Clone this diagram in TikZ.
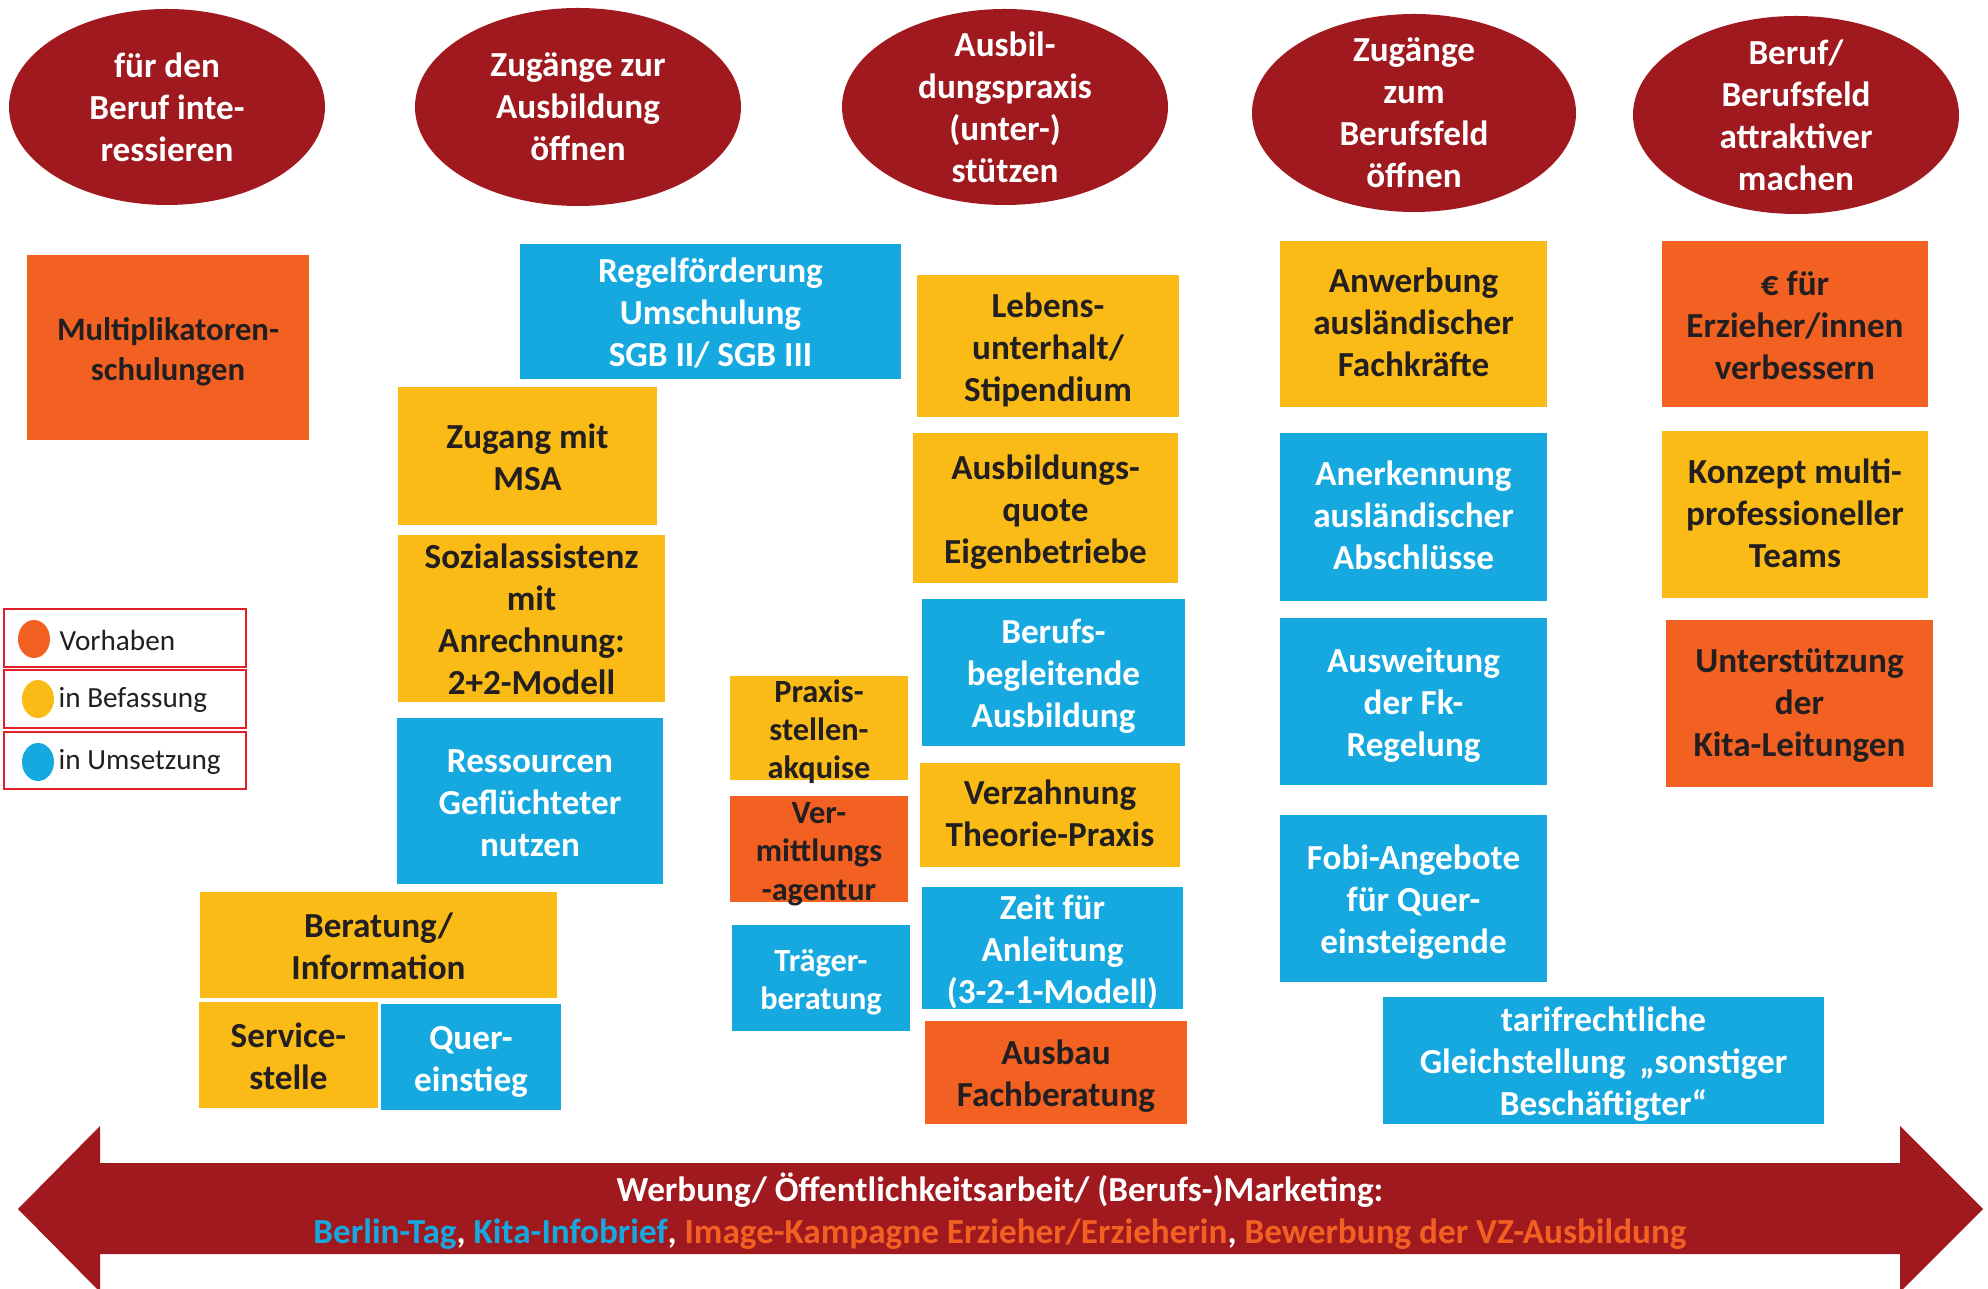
\documentclass[tikz,border=0pt]{standalone}
\usepackage{fontspec}
\setmainfont{Carlito}
\usetikzlibrary{shapes.geometric}
\definecolor{cred}{HTML}{A0191E}
\definecolor{corg}{HTML}{F26122}
\definecolor{cyel}{HTML}{FBBB16}
\definecolor{cblu}{HTML}{16A9E0}
\definecolor{ctxt}{HTML}{231F20}
\definecolor{cleg}{HTML}{E2202A}
\newcommand\rbox[8]{%
  \node[boxshape, fill=#2, minimum width={(#5-#3)*0.01cm}, minimum height={(#6-#4)*0.01cm}] (#1) at ({(#3+#5)/2},{(#4+#6)/2}) {};
  \node[boxtext, #8] (#1-t) at ([yshift=-0.05cm]#1.center) {\strut #7\strut};}
\newcommand\goalell[6]{%
  \node[goalshape, minimum width={#4*0.01cm}, minimum height={#5*0.01cm}] (#1) at (#2,#3) {};
  \node[goaltext] (#1-t) at (#1.center) {#6};}
\begin{document}
\begin{tikzpicture}[x=0.01cm,y=-0.01cm,
  boxshape/.style={rectangle, inner sep=0pt, outer sep=0pt, draw=none},
  boxtext/.style={align=center, inner sep=0pt, text=ctxt, font=\bfseries\fontsize{10}{11.95}\selectfont},
  wt/.style={text=white},
  up/.style={yshift=0.025cm},
  small/.style={font=\bfseries\fontsize{9.2}{10.9}\selectfont},
  mid/.style={font=\bfseries\fontsize{9.3}{11.2}\selectfont},
  goalshape/.style={ellipse, fill=cred, inner sep=0pt, outer sep=0pt},
  goaltext/.style={align=center, inner sep=0pt, text=white, font=\bfseries\fontsize{10}{11.95}\selectfont},
  legbox/.style={rectangle, draw=cleg, line width=0.8pt, fill=white, inner sep=0pt},
  legdot/.style={ellipse, inner sep=0pt, minimum width=0.32cm, minimum height=0.38cm},
  legtext/.style={anchor=west, inner sep=0pt, text=ctxt, font=\fontsize{8.3}{10}\selectfont},
  arrowtext/.style={align=center, inner sep=0pt, text=white, font=\bfseries\fontsize{10}{11.95}\selectfont}
]
\useasboundingbox (0,0) rectangle (1988,1289);
\fill[white] (0,0) rectangle (1988,1289);

% goals
\goalell{g1}{167}{107}{316}{196}{für den\\Beruf inte-\\ressieren}
\goalell{g2}{578}{107}{326}{198}{Zugänge zur\\Ausbildung\\öffnen}
\goalell{g3}{1005}{107}{326}{196}{Ausbil-\\dungspraxis\\(unter-)\\stützen}
\goalell{g4}{1414}{113}{324}{198}{Zugänge\\zum\\Berufsfeld\\öffnen}
\goalell{g5}{1796}{115}{326}{198}{Beruf/\\Berufsfeld\\attraktiver\\machen}

% column 1/2
\rbox{m1}{corg}{27}{255}{309}{440}{Multiplikatoren-\\schulungen}{mid}
\rbox{r1}{cblu}{520}{244}{901}{379}{Regelförderung\\Umschulung\\SGB II/ SGB III}{wt}
\rbox{z1}{cyel}{398}{387}{657}{525}{Zugang mit\\MSA}{}
\rbox{s1}{cyel}{398}{535}{665}{702}{Sozialassistenz\\mit\\Anrechnung:\\2+2-Modell}{}
\rbox{res}{cblu}{397}{718}{663}{884}{Ressourcen\\Geflüchteter\\nutzen}{wt}
\rbox{ber}{cyel}{200}{892}{557}{998}{Beratung/\\Information}{}
\rbox{ser}{cyel}{199}{1002}{378}{1108}{Service-\\stelle}{}
\rbox{que}{cblu}{381}{1004}{561}{1110}{Quer-\\einstieg}{wt}

% column 3
\rbox{pra}{cyel}{730}{676}{908}{780}{Praxis-\\stellen-\\akquise}{small}
\rbox{ver}{corg}{730}{796}{908}{902}{Ver-\\mittlungs\\-agentur}{small}
\rbox{tra}{cblu}{732}{925}{910}{1031}{Träger-\\beratung}{small,wt}
\rbox{leb}{cyel}{917}{275}{1179}{417}{Lebens-\\unterhalt/\\Stipendium}{}
\rbox{aq}{cyel}{913}{433}{1178}{583}{Ausbildungs-\\quote\\Eigenbetriebe}{}
\rbox{bb}{cblu}{922}{599}{1185}{746}{Berufs-\\begleitende\\Ausbildung}{wt}
\rbox{vz}{cyel}{920}{763}{1180}{867}{Verzahnung\\Theorie-Praxis}{up}
\rbox{zf}{cblu}{922}{887}{1183}{1009}{Zeit für\\Anleitung\\(3-2-1-Modell)}{wt}
\rbox{fb}{corg}{925}{1021}{1187}{1124}{Ausbau\\Fachberatung}{}

% column 4
\rbox{anw}{cyel}{1280}{241}{1547}{407}{Anwerbung\\ausländischer\\Fachkräfte}{up}
\rbox{ane}{cblu}{1280}{433}{1547}{601}{Anerkennung\\ausländischer\\Abschlüsse}{wt,up}
\rbox{aus}{cblu}{1280}{618}{1547}{785}{Ausweitung\\der Fk-\\Regelung}{wt}
\rbox{fob}{cblu}{1280}{815}{1547}{982}{Fobi-Angebote\\für Quer-\\einsteigende}{wt}
\rbox{tar}{cblu}{1383}{997}{1824}{1124}{tarifrechtliche\\Gleichstellung \,„sonstiger\\Beschäftigter“}{wt}

% column 5
\rbox{eur}{corg}{1662}{241}{1928}{407}{€ für\\Erzieher/innen\\verbessern}{}
\rbox{kon}{cyel}{1662}{431}{1928}{598}{Konzept multi-\\professioneller\\Teams}{up}
\rbox{unt}{corg}{1666}{620}{1933}{787}{Unterstützung\\der\\Kita-Leitungen}{up}

% legend
\node[legbox, minimum width=2.42cm, minimum height=0.58cm] (l1) at (125,638) {};
\node[legbox, minimum width=2.42cm, minimum height=0.58cm] (l2) at (125,699) {};
\node[legbox, minimum width=2.42cm, minimum height=0.57cm] (l3) at (125,760.5) {};
\node[legdot, fill=corg] (d1) at (34,639) {};
\node[legdot, fill=cyel] (d2) at (38,699) {};
\node[legdot, fill=cblu] (d3) at (38,762) {};
\node[legtext] (t1) at (59,640) {Vorhaben};
\node[legtext] (t2) at (58,700) {in Befassung};
\node[legtext] (t3) at (58,762) {in Umsetzung};

% arrow
\fill[cred] (18,1209) -- (100,1126) -- (100,1163) -- (1900,1163) -- (1900,1126)
  -- (1983,1209) -- (1900,1292) -- (1900,1254) -- (100,1254) -- (100,1292) -- cycle;
\node[arrowtext] (arr) at (1000,1211) {Werbung/ Öffentlichkeitsarbeit/ (Berufs-)Marketing:\\
  \textcolor{cblu}{Berlin-Tag}, \textcolor{cblu}{Kita-Infobrief}, \textcolor{corg}{Image-Kampagne Erzieher/Erzieherin}, \textcolor{corg}{Bewerbung der VZ-Ausbildung}};
\end{tikzpicture}
\end{document}
